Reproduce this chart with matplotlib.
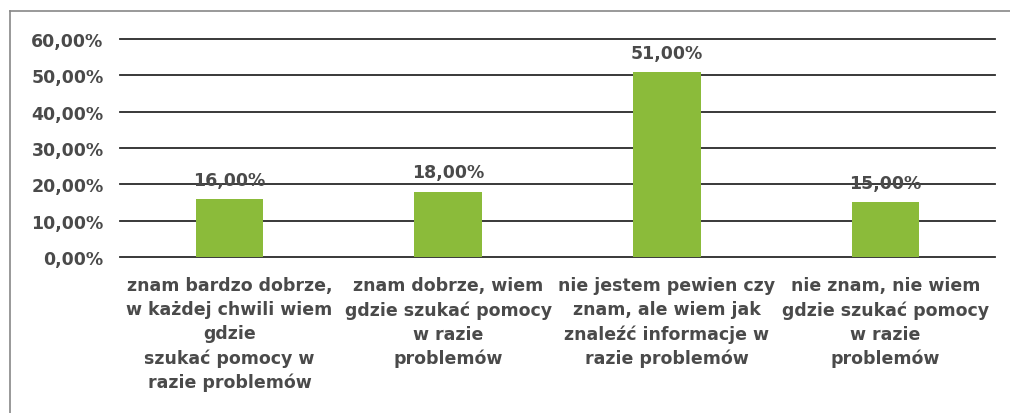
import matplotlib
matplotlib.use('Agg')
import matplotlib.pyplot as plt
from matplotlib.lines import Line2D

categories = [
    'znam bardzo dobrze,\nw każdej chwili wiem\ngdzie\nszukać pomocy w\nrazie problemów',
    'znam dobrze, wiem\ngdzie szukać pomocy\nw razie\nproblemów',
    'nie jestem pewien czy\nznam, ale wiem jak\nznaleźć informacje w\nrazie problemów',
    'nie znam, nie wiem\ngdzie szukać pomocy\nw razie\nproblemów',
]
values = [0.16, 0.18, 0.51, 0.15]
yticks = [0.0, 0.1, 0.2, 0.3, 0.4, 0.5, 0.6]

text_color = '#4a4a4a'
bar_color = '#8bbb3a'

plt.rcParams['font.family'] = ['DejaVu Sans']

fig = plt.figure(figsize=(10.1, 4.14), dpi=100)
ax = fig.add_axes([0.119, 0.377, 0.866, 0.526])

x = list(range(len(values)))
for t in yticks:
    ax.axhline(t, color='#2a2a2a', linewidth=1.3, zorder=0, clip_on=False)
bars = ax.bar(x, values, width=0.31, color=bar_color, zorder=2)

# etykiety nad słupkami
for xi, v in zip(x, values):
    ax.text(xi, v + 0.028, f'{v * 100:.2f}%'.replace('.', ','), ha='center', va='bottom',
            fontsize=12.5, fontweight='bold', color=text_color)

ax.set_xlim(-0.5, len(values) - 0.5)
ax.set_ylim(0, 0.6)
ax.set_yticks(yticks)
ax.set_yticklabels([f'{t * 100:.2f}%'.replace('.', ',') for t in yticks],
                   fontsize=12.5, fontweight='bold', color=text_color)
ax.set_xticks(x)
ax.set_xticklabels(categories, fontsize=12.5, fontweight='bold', color=text_color,
                   linespacing=1.42, va='top')
ax.tick_params(axis='both', length=0)
ax.tick_params(axis='y', pad=12)
ax.tick_params(axis='x', pad=14)
for s in ax.spines.values():
    s.set_visible(False)

# ramka wykresu
fig.add_artist(Line2D([10 / 1010, 10 / 1010], [0, 1 - 12 / 414], transform=fig.transFigure,
                      color='#888888', linewidth=1.2))
fig.add_artist(Line2D([10 / 1010, 1], [1 - 12 / 414, 1 - 12 / 414], transform=fig.transFigure,
                      color='#888888', linewidth=1.2))

fig.savefig('out.png', dpi=100)
